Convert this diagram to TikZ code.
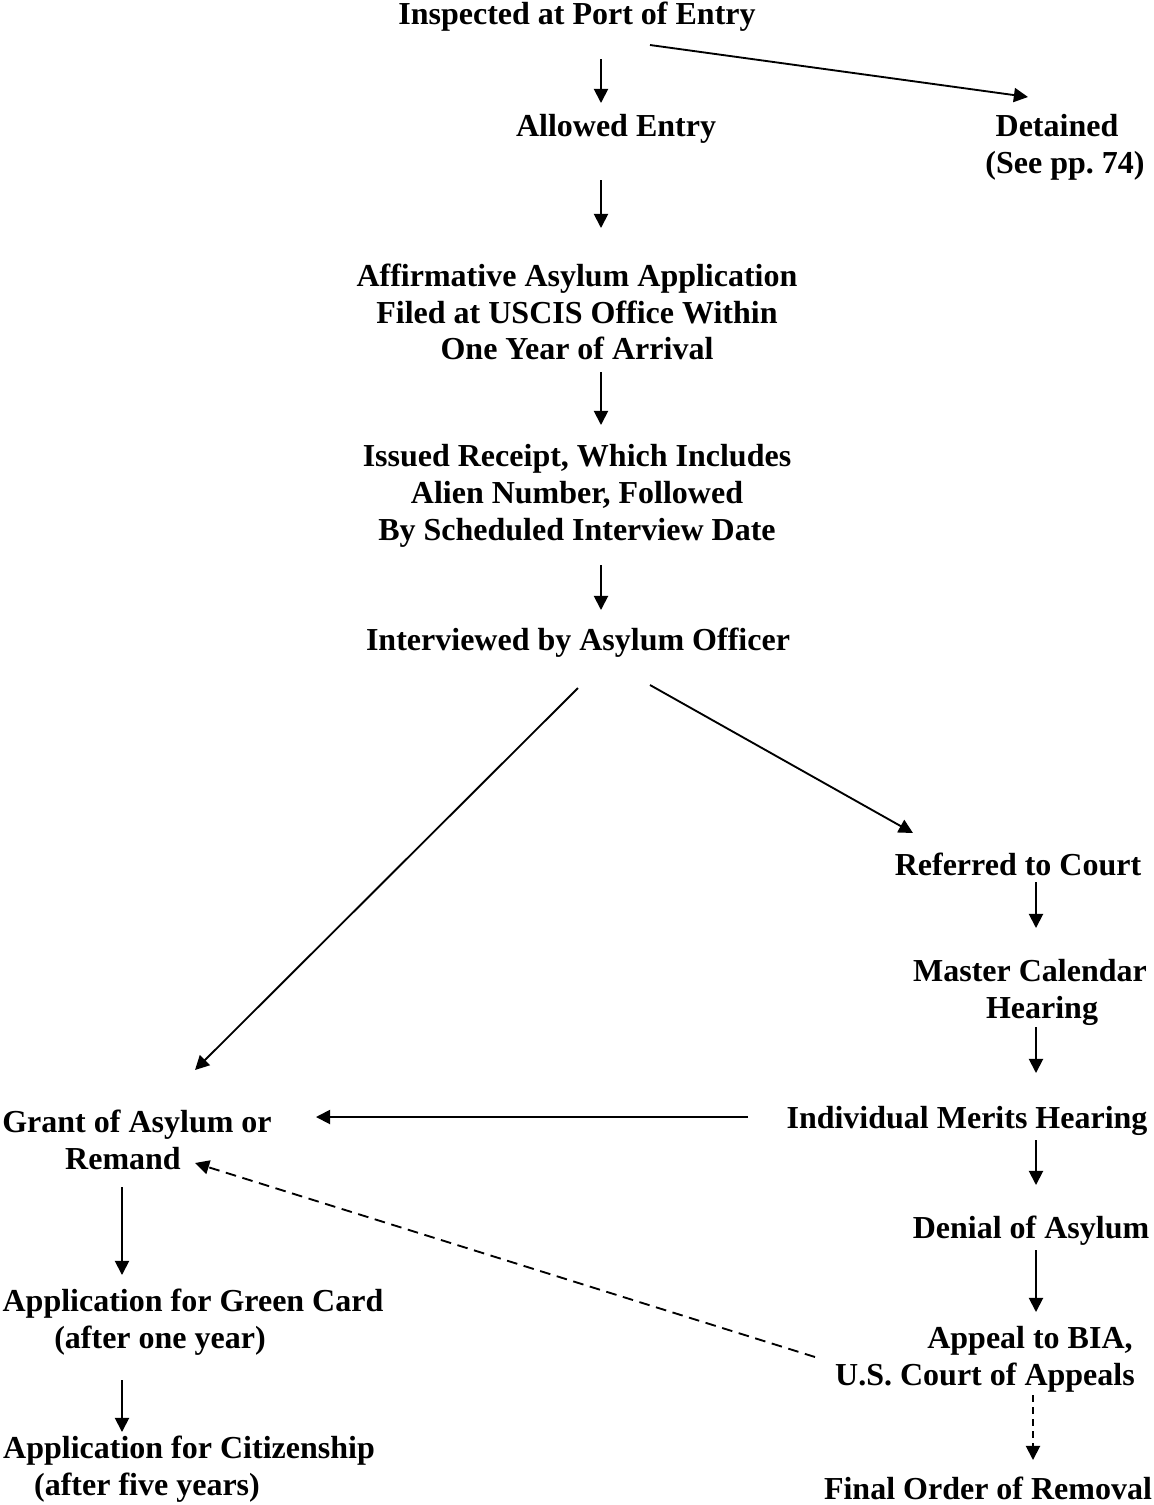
\documentclass[tikz,border=0pt]{standalone}
\usepackage{fontspec}
\setmainfont{Liberation Serif}
\usetikzlibrary{arrows.meta}
\frenchspacing

\begin{document}
\begin{tikzpicture}[x=0.375pt,y=-0.375pt,
	every node/.style={font=\fontsize{12}{13.8}\selectfont\bfseries,align=center,inner sep=0pt},
	arr/.style={line width=0.7pt,-{Triangle[length=5.3pt,width=5.3pt]}},
	darr/.style={arr,dash pattern=on 4pt off 2.5pt}]
	\useasboundingbox (0,0) rectangle (1154,1505);

	\node at (577,17) (inspect) {Inspected at Port of Entry};
	\node at (616,129) (allowed) {Allowed Entry};
	\node at (1065,147.5) (detained) {Detained\hspace*{6pt}\\(See pp. 74)};
	\node at (577,312) (affirm) {Affirmative Asylum Application\\Filed at USCIS Office Within\\One Year of Arrival};
	\node at (577,496) (receipt) {Issued Receipt, Which Includes\\Alien Number, Followed\\By Scheduled Interview Date};
	\node at (578,643) (interview) {Interviewed by Asylum Officer};
	\node at (1018,864) (referred) {Referred to Court};
	\node at (1030,992.5) (master) {Master Calendar\\\hspace*{9pt}Hearing};
	\node at (967,1121) (merits) {Individual Merits Hearing};
	\node at (1031,1231) (denial) {Denial of Asylum};
	\node at (985,1359.5) (appeal) {\hspace*{33.75pt}Appeal to BIA,\\U.S. Court of Appeals};
	\node at (988,1488) (removal) {Final Order of Removal};
	\node at (137,1139.5) (grant) {Grant of Asylum or\\Remand\hspace*{10.5pt}};
	\node at (193,1322.5) (greencard) {Application for Green Card\\(after one year)\hspace*{24.75pt}};
	\node at (189,1469.5) (citizen) {Application for Citizenship\\(after five years)\hspace*{31.5pt}};

	\draw[arr] ([shift={(24,42)}]inspect.center) -- ([shift={(-15,-26)}]allowed.center);
	\draw[arr] ([shift={(73,28)}]inspect.center) -- ([shift={(-37,-50.5)}]detained.center);
	\draw[arr] ([shift={(-15,51)}]allowed.center) -- ([shift={(24,-84)}]affirm.center);
	\draw[arr] ([shift={(24,60)}]affirm.center) -- ([shift={(24,-71)}]receipt.center);
	\draw[arr] ([shift={(24,69)}]receipt.center) -- ([shift={(23,-33)}]interview.center);
	\draw[arr] ([shift={(0,45)}]interview.center) -- ([shift={(58,-69.5)}]grant.center);
	\draw[arr] ([shift={(72,42)}]interview.center) -- ([shift={(-105,-31)}]referred.center);
	\draw[arr] ([shift={(18,18)}]referred.center) -- ([shift={(6,-64.5)}]master.center);
	\draw[arr] ([shift={(6,34.5)}]master.center) -- ([shift={(69,-48)}]merits.center);
	\draw[arr] ([shift={(-219,-4)}]merits.center) -- ([shift={(179,-22.5)}]grant.center);
	\draw[arr] ([shift={(69,19)}]merits.center) -- ([shift={(5,-46)}]denial.center);
	\draw[arr] ([shift={(5,19)}]denial.center) -- ([shift={(51,-47.5)}]appeal.center);
	\draw[darr,dash pattern=on 2.5pt off 2pt] ([shift={(48,35.5)}]appeal.center) -- ([shift={(45,-28)}]removal.center);
	\draw[darr] ([shift={(-170,-2.5)}]appeal.center) -- ([shift={(58,23.5)}]grant.center);
	\draw[arr] ([shift={(-15,47.5)}]grant.center) -- ([shift={(-71,-47.5)}]greencard.center);
	\draw[arr] ([shift={(-71,57.5)}]greencard.center) -- ([shift={(-67,-37.5)}]citizen.center);
\end{tikzpicture}
\end{document}
